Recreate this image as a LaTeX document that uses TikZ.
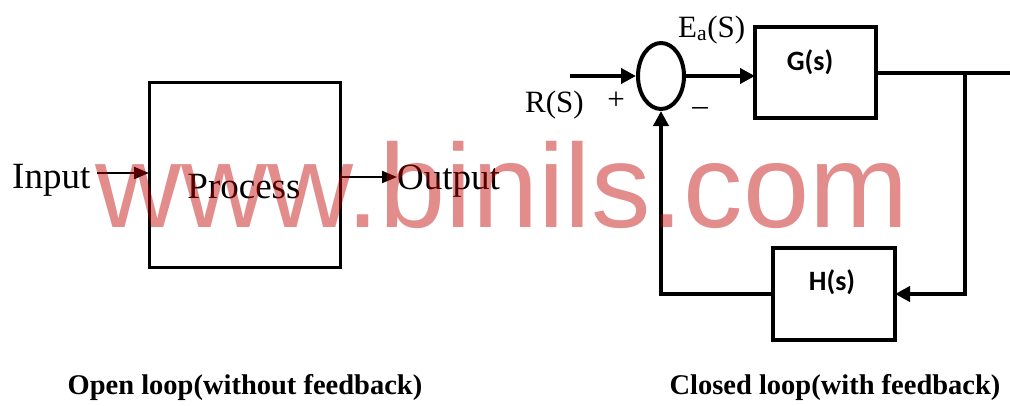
\documentclass[tikz,border=0pt]{standalone}
\usepackage{fontspec}
\setmainfont{Liberation Serif}
\newfontfamily\sansb{Carlito}
\newfontfamily\wmfont{Liberation Sans}
\usetikzlibrary{arrows.meta,shapes.geometric}
\begin{document}
\begin{tikzpicture}[x=1pt,y=-1pt,
  blockbox/.style={draw,line width=#1,inner sep=0pt,outer sep=0pt},
  blockbox/.default=4pt,
  thinarrow/.style={line width=2pt,-{Triangle[length=15pt,width=12pt]}},
  thickarrow/.style={line width=4pt,-{Triangle[length=15pt,width=15pt]}},
  thickline/.style={line width=4pt},
  serif37/.style={font=\fontsize{37}{40}\selectfont,inner sep=0pt},
  serif31/.style={font=\fontsize{31}{34}\selectfont,inner sep=0pt},
  sanslab/.style={font=\sansb\bfseries\fontsize{28}{30}\selectfont,inner sep=0pt},
  caption/.style={font=\bfseries\fontsize{28.5}{30}\selectfont,inner sep=0pt},
]
\useasboundingbox (0,0) rectangle (1010,405);
\fill[white] (0,0) rectangle (1010,405);

% ---------- open loop ----------
\node[blockbox=3pt,minimum width=191pt,minimum height=185pt] (P) at (244.5,175) {};
\node[serif37,anchor=base] (ptxt) at (244,198) {Process};
\node[serif37,anchor=base west] (in) at (12,188) {Input};
\node[serif37,anchor=base west] (outtxt) at (397,189) {Output};
\coordinate (inS) at (97,173);
\coordinate (outE) at (397,177);
\draw[thinarrow] (inS) -- (inS -| P.west);
\draw[thinarrow] (outE -| P.east) -- (outE);

% ---------- closed loop ----------
\node[ellipse,draw,line width=4pt,inner sep=0pt,minimum width=46pt,minimum height=66pt] (sum) at (661,76) {};
\node[blockbox,minimum width=121pt,minimum height=91pt] (G) at (815.5,72.5) {};
\node[blockbox,minimum width=122pt,minimum height=92pt] (H) at (834,294) {};
\node[sanslab,anchor=base] (gtxt) at (810,70) {G(s)};
\node[sanslab,anchor=base] (htxt) at (832,290) {H(s)};
\node[serif31,anchor=base west] (rs) at (525,112) {R(S)};
\node[serif31] (plus) at (616,101) {+};
\node[serif31] (minus) at (700,112) {–};
\node[serif31,anchor=base west] (ea) at (678,37) {E\textsubscript{a}(S)};

\coordinate (rin) at (570,76);
\coordinate (out) at (1010,73);
\coordinate (br) at (965,73);
\draw[thickarrow] (rin) -- (sum.west);
\draw[thickarrow] (sum.east) -- (sum.east -| G.west);
\draw[thickline] (G.east |- out) -- (out);
\draw[thickarrow] (br) |- (H.east);
\draw[thickarrow] (H.west) -| (sum.south);

% ---------- captions ----------
\node[caption,anchor=base] (cap1) at (245,394) {Open loop(without feedback)};
\node[caption,anchor=base] (cap2) at (835,394) {Closed loop(with feedback)};

% ---------- watermark ----------
\node[font=\wmfont\fontsize{119}{120}\selectfont,inner sep=0pt,anchor=base west,
      text=red!75!black,opacity=0.45] (wm) at (95,227) {www.binils.com};
\end{tikzpicture}
\end{document}
